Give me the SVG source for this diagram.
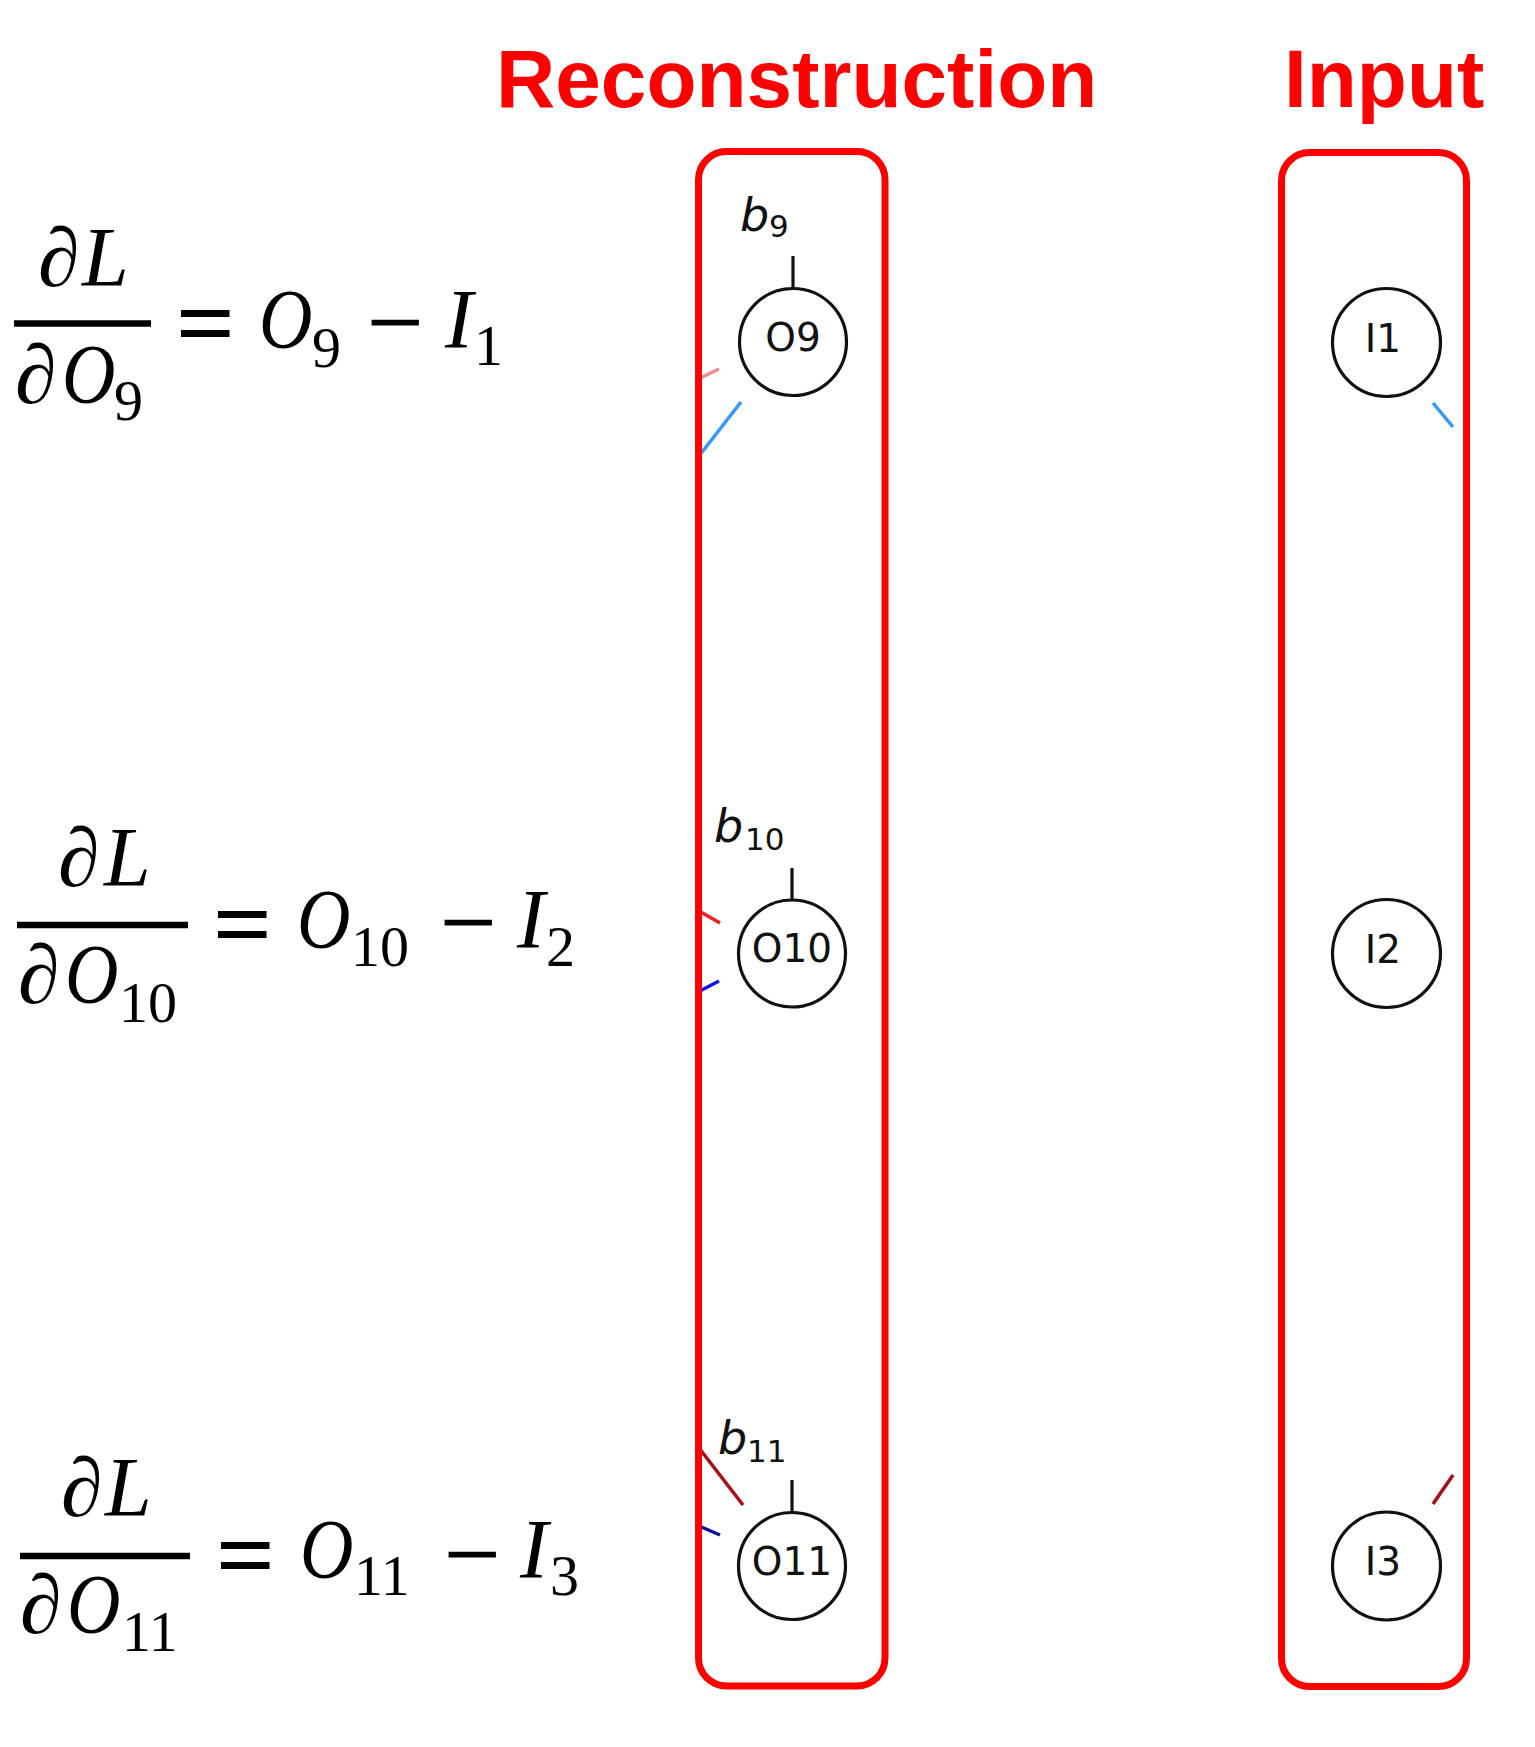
<svg xmlns="http://www.w3.org/2000/svg" width="1535" height="1747" viewBox="0 0 1535 1747">
<defs>
<style>
.title{font-family:"Liberation Sans",Arial,sans-serif;font-weight:bold;font-size:82px;fill:#ff0000}
.box{fill:none;stroke:#ff0000;stroke-width:7}
.node circle{fill:#ffffff;stroke:#111111;stroke-width:3.2}
.nlabel{font-family:"DejaVu Sans",sans-serif;font-size:39px;fill:#111111;text-anchor:middle}
.bias{stroke:#111111;stroke-width:3.2}
.blab{font-family:"DejaVu Sans",sans-serif;font-style:italic;font-size:46px;fill:#111111}
.bsub{font-family:"DejaVu Sans",sans-serif;font-size:31px;fill:#111111}
.m{font-family:"Liberation Serif","DejaVu Serif",serif;font-size:84px;fill:#000000}
.mi{font-style:italic}
.op{font-family:"Liberation Serif","DejaVu Serif",serif;font-size:100px;fill:#000000;stroke:#000000;stroke-width:2}
.mn{font-family:"Liberation Serif","DejaVu Serif",serif;font-size:100px;fill:#000000;stroke:#000000;stroke-width:0.8}
.ms{font-family:"Liberation Serif","DejaVu Serif",serif;font-size:58px;fill:#000000}
.bar{stroke:#000000;stroke-width:6.5}
.edge{fill:none;stroke-width:3.5}
</style>
</defs>
<rect width="1535" height="1747" fill="#ffffff"/>

<!-- titles -->
<text class="title" x="496" y="107">Reconstruction</text>
<text class="title" x="1284" y="107">Input</text>

<!-- connectors (fragments) -->
<g id="connectors">
<line class="edge" x1="699" y1="378.5" x2="719" y2="369" stroke="#f08a8a"/>
<line class="edge" x1="699" y1="456" x2="741" y2="402" stroke="#3399ff"/>
<line class="edge" x1="699" y1="911" x2="720" y2="923" stroke="#ee2222"/>
<line class="edge" x1="699" y1="991.5" x2="719" y2="981" stroke="#1414ee"/>
<line class="edge" x1="699" y1="1448" x2="743" y2="1505" stroke="#a50f15"/>
<line class="edge" x1="699" y1="1526" x2="720" y2="1535" stroke="#10109a"/>
<line class="edge" x1="1433" y1="403" x2="1453" y2="427" stroke="#3399ff"/>
<line class="edge" x1="1433" y1="1504" x2="1453" y2="1475" stroke="#a50f15"/>
</g>

<!-- layer boxes -->
<rect id="reconstruction-box" class="box" x="698.5" y="151.5" width="186.5" height="1534.5" rx="28" ry="28"/>
<rect id="input-box" class="box" x="1281.5" y="152.5" width="185" height="1534" rx="28" ry="28"/>

<!-- nodes -->
<g id="O9" class="node">
<line class="bias" x1="793" y1="256" x2="793" y2="289"/>
<text x="740" y="231"><tspan class="blab">b</tspan><tspan class="bsub" x="769" y="237">9</tspan></text>
<circle cx="793" cy="342" r="53.5"/>
<text class="nlabel" x="793" y="351">O9</text>
</g>
<g id="O10" class="node">
<line class="bias" x1="792" y1="868" x2="792" y2="900"/>
<text x="714" y="842"><tspan class="blab">b</tspan><tspan class="bsub" x="745" y="850">10</tspan></text>
<circle cx="792" cy="953.5" r="53.5"/>
<text class="nlabel" x="792" y="962">O10</text>
</g>
<g id="O11" class="node">
<line class="bias" x1="792" y1="1480" x2="792" y2="1513"/>
<text x="718" y="1454"><tspan class="blab">b</tspan><tspan class="bsub" x="747" y="1462">11</tspan></text>
<circle cx="792" cy="1566" r="53.5"/>
<text class="nlabel" x="792" y="1575">O11</text>
</g>
<g id="I1" class="node">
<circle cx="1386.5" cy="342.5" r="54"/>
<text class="nlabel" x="1383" y="352">I1</text>
</g>
<g id="I2" class="node">
<circle cx="1386.5" cy="953.5" r="54"/>
<text class="nlabel" x="1383" y="963">I2</text>
</g>
<g id="I3" class="node">
<circle cx="1386.5" cy="1566" r="54"/>
<text class="nlabel" x="1383" y="1575">I3</text>
</g>

<!-- equation 1 -->
<g id="eq1">
<text class="m mi" x="38" y="286">∂</text>
<text class="m mi" x="82" y="286">L</text>
<line class="bar" x1="14" y1="323.5" x2="151" y2="323.5"/>
<text class="m mi" x="15" y="403">∂</text>
<text class="m mi" transform="translate(62,403) scale(0.88,1)">O</text>
<text class="ms" x="114" y="420">9</text>
<text class="op" x="177" y="356.5">=</text>
<text class="m mi" transform="translate(259,348) scale(0.88,1)">O</text>
<text class="ms" x="312" y="367">9</text>
<text class="mn" x="367" y="356">−</text>
<text class="m mi" x="445" y="348">I</text>
<text class="ms" x="474" y="365">1</text>
</g>

<!-- equation 2 -->
<g id="eq2">
<text class="m mi" x="58" y="886">∂</text>
<text class="m mi" x="104" y="886">L</text>
<line class="bar" x1="17" y1="925" x2="188" y2="925"/>
<text class="m mi" x="18" y="1003">∂</text>
<text class="m mi" transform="translate(65,1003) scale(0.88,1)">O</text>
<text class="ms" x="119" y="1022">10</text>
<text class="op" x="214" y="957.5">=</text>
<text class="m mi" transform="translate(297,948) scale(0.88,1)">O</text>
<text class="ms" x="351" y="966">10</text>
<text class="mn" x="440" y="956">−</text>
<text class="m mi" x="517" y="948">I</text>
<text class="ms" x="546" y="966">2</text>
</g>

<!-- equation 3 -->
<g id="eq3">
<text class="m mi" x="61" y="1516">∂</text>
<text class="m mi" x="105" y="1516">L</text>
<line class="bar" x1="20" y1="1556" x2="190" y2="1556"/>
<text class="m mi" x="20" y="1633">∂</text>
<text class="m mi" transform="translate(67,1633) scale(0.88,1)">O</text>
<text class="ms" x="122" y="1651">11</text>
<text class="op" x="217" y="1588.5">=</text>
<text class="m mi" transform="translate(300,1578) scale(0.88,1)">O</text>
<text class="ms" x="354" y="1595">11</text>
<text class="mn" x="444" y="1588">−</text>
<text class="m mi" x="520" y="1578">I</text>
<text class="ms" x="550" y="1595">3</text>
</g>
</svg>
